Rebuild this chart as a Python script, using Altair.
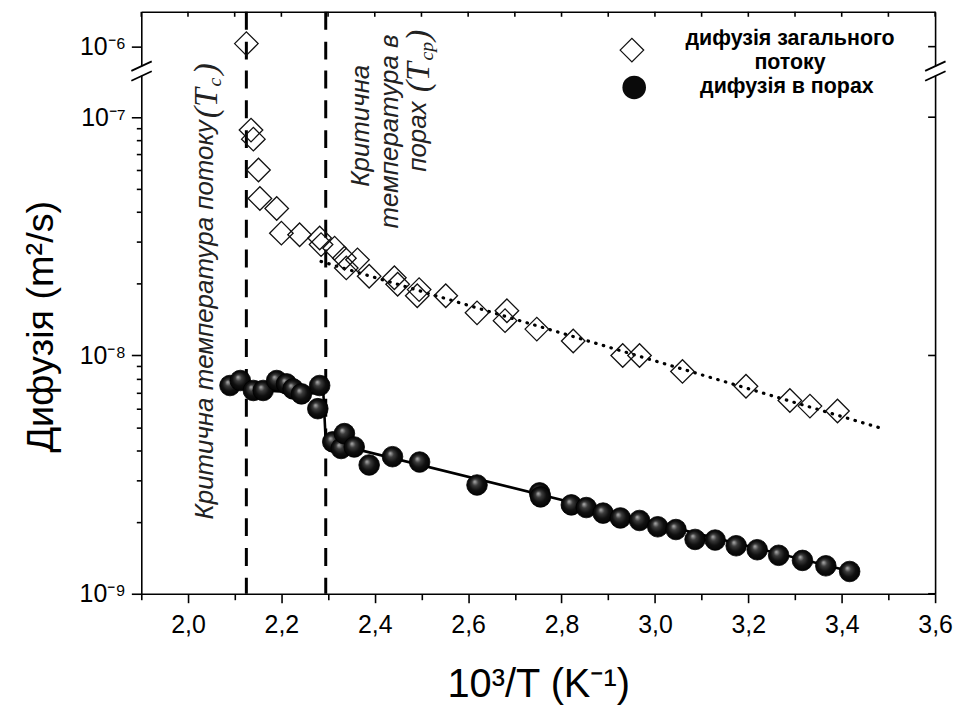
import altair as alt
import pandas as pd

# ---------------- data ----------------
# total (bulk) diffusion – open diamonds
total_x = [2.125, 2.135, 2.140, 2.151, 2.154, 2.190, 2.200, 2.239, 2.282, 2.285,
           2.314, 2.335, 2.339, 2.363, 2.388, 2.442, 2.449, 2.491, 2.495, 2.552,
           2.619, 2.679, 2.683, 2.747, 2.825, 2.931, 2.967, 3.059, 3.195, 3.289,
           3.332, 3.391]
total_y = [1.03e-6, 8.83e-8, 8.09e-8, 6.0e-8, 4.56e-8, 4.14e-8, 3.26e-8, 3.21e-8, 3.11e-8, 2.92e-8,
           2.82e-8, 2.56e-8, 2.33e-8, 2.52e-8, 2.15e-8, 2.12e-8, 1.99e-8, 1.78e-8, 1.89e-8, 1.78e-8,
           1.51e-8, 1.40e-8, 1.54e-8, 1.29e-8, 1.15e-8, 1.0e-8, 1.0e-8, 8.57e-9, 7.43e-9, 6.47e-9,
           6.13e-9, 5.85e-9]
# pore diffusion – filled spheres
pore_x = [2.090, 2.112, 2.140, 2.161, 2.190, 2.211, 2.225, 2.243, 2.282, 2.278,
          2.310, 2.328, 2.335, 2.356, 2.388, 2.438, 2.496, 2.619, 2.753, 2.755,
          2.821, 2.853, 2.889, 2.926, 2.967, 3.006, 3.045, 3.086, 3.129, 3.174,
          3.219, 3.265, 3.316, 3.366, 3.417]
pore_y = [7.48e-9, 7.85e-9, 7.13e-9, 7.13e-9, 7.85e-9, 7.6e-9, 7.24e-9, 6.9e-9, 7.48e-9, 5.98e-9,
          4.34e-9, 4.07e-9, 4.70e-9, 4.13e-9, 3.47e-9, 3.76e-9, 3.57e-9, 2.86e-9, 2.65e-9, 2.55e-9,
          2.36e-9, 2.30e-9, 2.18e-9, 2.08e-9, 2.03e-9, 1.91e-9, 1.86e-9, 1.69e-9, 1.68e-9, 1.59e-9,
          1.53e-9, 1.45e-9, 1.38e-9, 1.31e-9, 1.24e-9]
# fitted lines
fit_total_x = [2.285, 3.48]
fit_total_y = [2.48e-8, 4.98e-9]
fit_pore_x = [2.125, 2.29, 2.295, 3.42]
fit_pore_y = [7.2e-9, 6.9e-9, 4.35e-9, 1.24e-9]
# critical temperatures
crit_x = [2.125, 2.295]

series_names = ["дифузія загального потоку", "дифузія в порах"]

x_ticks = [round(1.9 + 0.1 * i, 1) for i in range(18)]
y_major_bot = [1e-9, 1e-8, 1e-7]
y_ticks_bot = [m * 10.0 ** e for e in (-9, -8) for m in range(1, 10)] + [1e-7]
y_ticks_top = [1e-6]

# annotation texts (anchors in data units)
ann_sans_t = ["Критична температура потоку", "Критична", "температура в", "порах"]
ann_sans_x = [2.037, 2.371, 2.433, 2.492]
ann_sans_y = [2.05e-9, 5.11e-8, 3.41e-8, 5.90e-8]
ann_serif_t = ["(T", ")", "(T", ")"]
ann_serif_x = [2.040, 2.040, 2.494, 2.494]
ann_serif_y = [9.90e-8, 1.511e-7, 1.272e-7, 2.09e-7]
ann_sub_t = ["c", "cp"]
ann_sub_x = [2.057, 2.512]
ann_sub_y = [1.346e-7, 1.73e-7]

# ---------------- frames ----------------
pts = pd.DataFrame({
    "x": total_x + pore_x,
    "y": total_y + pore_y,
    "series": [series_names[0]] * len(total_x) + [series_names[1]] * len(pore_x),
})
pts["series2"] = pts["series"]
fit_t = pd.DataFrame({"x": fit_total_x, "y": fit_total_y})
fit_p = pd.DataFrame({"x": fit_pore_x, "y": fit_pore_y})
crit = pd.DataFrame({"x": crit_x})
a_sans = pd.DataFrame({"x": ann_sans_x, "y": ann_sans_y, "t": ann_sans_t})
a_serif = pd.DataFrame({"x": ann_serif_x, "y": ann_serif_y, "t": ann_serif_t})
a_sub = pd.DataFrame({"x": ann_sub_x, "y": ann_sub_y, "t": ann_sub_t})
xt = pd.DataFrame({"x": x_ticks})
yt_top = pd.DataFrame({"y": y_ticks_top})
yt_bot = pd.DataFrame({"y": y_major_bot})
one = pd.DataFrame({"a": [0]})

FONT = "Liberation Sans"
SERIF = "Liberation Serif"
W, HT, HB = 798, 59, 526

xscale = alt.Scale(domain=[1.9, 3.6], nice=False, zero=False)
ytop_scale = alt.Scale(type="log", domain=[7.94e-7, 1.40e-6], nice=False)
ybot_scale = alt.Scale(type="log", domain=[1e-9, 1.57e-7], nice=False)

common = dict(domainColor="black", tickColor="black", domainWidth=1.6, tickWidth=1.6,
              grid=False, zindex=0, labelFont=FONT, labelColor="black", labelOverlap=False)

x_top_axis = alt.Axis(orient="top", values=x_ticks, labels=False, ticks=False, title=None, **common)
x_bot_axis = alt.Axis(
    orient="bottom", values=x_ticks,
    labelExpr="round(datum.value*10) % 2 == 0 ? replace(format(datum.value, '.1f'), '.', ',') : ''",
    tickSize={"condition": {"test": "round(datum.value*10) % 2 == 0", "value": 9}, "value": 6},
    labelFontSize=25, labelPadding=10, labelFlush=False,
    title="10³/T (K⁻¹)", titleFont=FONT, titleFontSize=40, titleFontWeight="normal",
    titleColor="black", titlePadding=27, **common)

is_major = "abs(log(datum.value)/LN10 - round(log(datum.value)/LN10)) < 0.01"
exp_lbl = ("'10' + (round(log(datum.value)/LN10) == -9 ? '⁻⁹' : "
           "round(log(datum.value)/LN10) == -8 ? '⁻⁸' : "
           "round(log(datum.value)/LN10) == -7 ? '⁻⁷' : '⁻⁶')")
y_bot_left = alt.Axis(
    orient="left", values=y_ticks_bot,
    labelExpr=f"{is_major} ? {exp_lbl} : ''",
    tickSize={"condition": {"test": is_major, "value": 10}, "value": 5},
    labelFontSize=25, labelPadding=6,
    title="Дифузія (m²/s)", titleFont=FONT, titleFontSize=38, titleFontWeight="normal",
    titleColor="black", titlePadding=19, titleY=257, **common)
y_bot_right = alt.Axis(orient="right", values=y_major_bot, labels=False, ticks=False,
                       title=None, **common)
y_top_left = alt.Axis(orient="left", values=y_ticks_top, labelExpr=exp_lbl, tickSize=10,
                      labelFontSize=25, labelPadding=6, title=None, **common)
y_top_right = alt.Axis(orient="right", values=y_ticks_top, labels=False, ticks=False,
                       title=None, **common)

X_top = alt.X("x:Q", scale=xscale, axis=x_top_axis)
X_bot = alt.X("x:Q", scale=xscale, axis=x_bot_axis)

sphere = alt.RadialGradient(
    gradient="radial",
    stops=[alt.GradientStop(color="#b4b4b4", offset=0),
           alt.GradientStop(color="#3c3c3c", offset=0.28),
           alt.GradientStop(color="#101010", offset=0.6),
           alt.GradientStop(color="#000000", offset=1)],
    x1=0.38, y1=0.33, r1=0, x2=0.5, y2=0.5, r2=0.55)

leg_common = dict(orient="none", title=None, padding=0, labelFont=FONT, labelFontSize=21.5,
                  labelFontWeight="bold", labelColor="black", labelAlign="center", labelLimit=0,
                  symbolSize=560)
legend_a = alt.Legend(
    legendX=480.7, legendY=26, labelOffset=146.5, labelBaseline="bottom",
    labelExpr="['дифузія загального', 'потоку']",
    symbolStrokeColor="#111111", symbolFillColor="transparent", symbolStrokeWidth=1.3, **leg_common)
legend_b = alt.Legend(
    legendX=482.5, legendY=63, labelOffset=140.5, labelBaseline="middle", **leg_common)

# ---------------- top panel ----------------
top_data = alt.Chart(pts).transform_filter("datum.y > 5e-7")
top_pt = top_data.mark_point(filled=False, size=560, stroke="#111111", strokeWidth=1.3, opacity=1).encode(
    x=X_top,
    y=alt.Y("y:Q", scale=ytop_scale, axis=y_top_left),
    shape=alt.Shape("series:N", scale=alt.Scale(domain=[series_names[0]], range=["diamond"]), legend=legend_a),
)
top_leg_b = alt.Chart(pts).transform_filter("datum.y > 5e-7 && datum.series2 == '" + series_names[1] + "'") \
    .mark_point(filled=True, shape="circle", size=440, opacity=1).encode(
    x=X_top,
    y=alt.Y("y:Q", scale=ytop_scale, axis=None),
    fill=alt.Fill("series2:N", scale=alt.Scale(domain=[series_names[1]], range=["#0a0a0a"]), legend=legend_b),
)
top_r = top_data.mark_point(opacity=0).encode(
    x=X_top, y=alt.Y("y:Q", scale=ytop_scale, axis=y_top_right))
top_rules = alt.Chart(crit).mark_rule(strokeDash=[18, 12], strokeWidth=3, color="black").encode(x=X_top)
top_xt = alt.Chart(xt).mark_rule(color="black", strokeWidth=1.6).encode(
    x=X_top, y=alt.value(0), y2=alt.value(5))
top_yt = alt.Chart(yt_top).mark_rule(color="black", strokeWidth=1.6).encode(
    y=alt.Y("y:Q", scale=ytop_scale, axis=None), x=alt.value(W - 7), x2=alt.value(W))
top = alt.layer(top_rules, top_xt, top_yt, top_pt, top_leg_b, top_r) \
    .resolve_axis(y="independent").properties(width=W, height=HT)

# ---------------- bottom panel ----------------
bot_pts = alt.Chart(pts).transform_filter("datum.y < 5e-7")
b_rules = alt.Chart(crit).mark_rule(strokeDash=[18, 12], strokeWidth=3, color="black").encode(x=X_bot)
b_yt = alt.Chart(yt_bot).mark_rule(color="black", strokeWidth=1.6).encode(
    y=alt.Y("y:Q", scale=ybot_scale, axis=None), x=alt.value(W - 7), x2=alt.value(W))
b_fit_t = alt.Chart(fit_t).mark_line(color="black", strokeWidth=3.2, strokeDash=[0.5, 7.5],
                                      strokeCap="round").encode(
    x=X_bot, y=alt.Y("y:Q", scale=ybot_scale, axis=y_bot_right))
b_fit_p = alt.Chart(fit_p).mark_line(color="black", strokeWidth=2.6).encode(
    x=X_bot, y=alt.Y("y:Q", scale=ybot_scale, axis=None))
b_tot = bot_pts.transform_filter(alt.datum.series == series_names[0]).mark_point(
    shape="diamond", filled=False, size=560, stroke="#111111", strokeWidth=1.3, opacity=1).encode(
    x=X_bot, y=alt.Y("y:Q", scale=ybot_scale, axis=y_bot_left))
b_por = bot_pts.transform_filter(alt.datum.series == series_names[1]).mark_point(
    shape="circle", filled=True, size=430, fill=sphere, stroke="#000000", strokeWidth=0.8, opacity=1).encode(
    x=X_bot, y=alt.Y("y:Q", scale=ybot_scale, axis=None))
b_sans = alt.Chart(a_sans).mark_text(angle=270, align="left", baseline="middle", font=FONT,
                                     fontSize=26, fontStyle="italic", color="#222222").encode(
    x=X_bot, y=alt.Y("y:Q", scale=ybot_scale, axis=None), text="t:N")
b_serif = alt.Chart(a_serif).mark_text(angle=270, align="left", baseline="middle", font=SERIF,
                                       fontSize=34, fontStyle="italic", color="#222222").encode(
    x=X_bot, y=alt.Y("y:Q", scale=ybot_scale, axis=None), text="t:N")
b_sub = alt.Chart(a_sub).mark_text(angle=270, align="left", baseline="middle", font=SERIF,
                                   fontSize=20, fontStyle="italic", color="#222222").encode(
    x=X_bot, y=alt.Y("y:Q", scale=ybot_scale, axis=None), text="t:N")

# axis-break marks (decoration at the junction of the two panels)
breaks = []
for bx in (0, W):
    breaks.append(alt.Chart(one).mark_rule(color="white", strokeWidth=5).encode(
        x=alt.value(bx), x2=alt.value(bx), y=alt.value(-4.3), y2=alt.value(5.3)))
    for (x0, y0, x1, y1) in [(-10, 0.3, 10.5, -9.2), (-10, 10.3, 10.5, 0.8)]:
        breaks.append(alt.Chart(one).mark_rule(color="black", strokeWidth=1.8).encode(
            x=alt.value(bx + x0), y=alt.value(y0), x2=alt.value(bx + x1), y2=alt.value(y1)))

bottom = alt.layer(b_rules, b_yt, b_fit_t, b_fit_p, b_tot, b_por, b_sans, b_serif, b_sub, *breaks) \
    .resolve_axis(y="independent").properties(width=W, height=HB)

chart = alt.vconcat(top, bottom, spacing=0, bounds="flush").properties(
    padding={"left": 14, "top": 0, "right": 0, "bottom": 0},
    background="white",
).configure_view(stroke=None)

chart.save("out.html", embed_options={"renderer": "svg", "actions": False})
